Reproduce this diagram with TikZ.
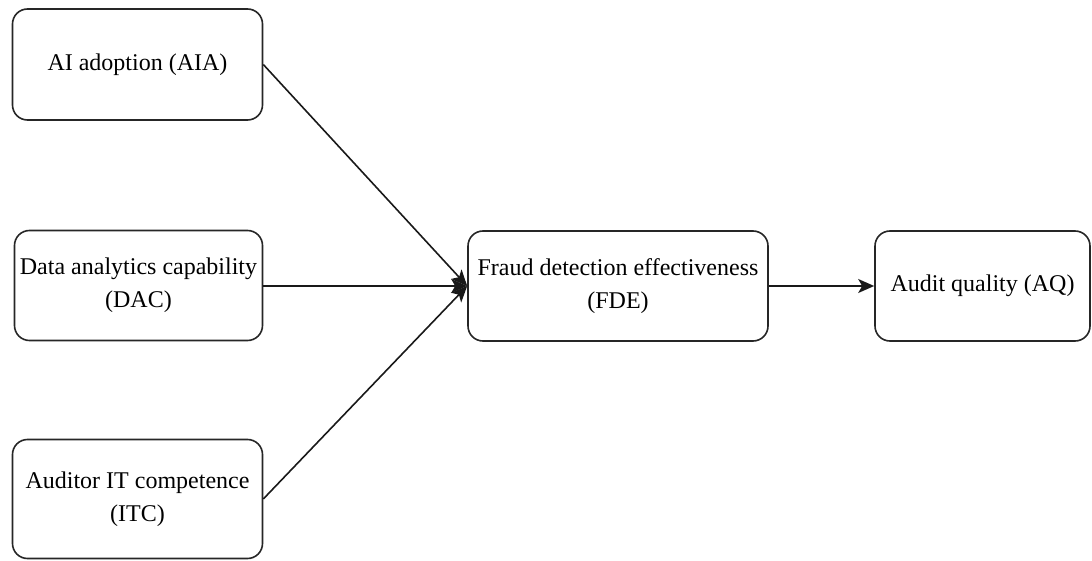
\documentclass[tikz,border=0pt]{standalone}
\usepackage{fontspec}
\setmainfont{Liberation Serif}
\usetikzlibrary{arrows.meta, positioning}
\tikzstyle{construct} = [draw=black!85, line width=1.6pt, rectangle, rounded corners=15pt, align=center, inner sep=0pt, minimum height=110pt, font=\fontsize{24}{33}\selectfont]
\tikzstyle{link} = [line width=1.6pt, draw=black!90, -{Stealth[length=16pt,width=14pt,inset=4pt]}]

\begin{document}
\begin{tikzpicture}[x=1pt, y=-1pt]
	\useasboundingbox (0,0) rectangle (1092,561);
	% predictors
	\node [construct, minimum width=250pt, minimum height=111pt] (aia) at (137.5,64.5) {AI adoption (AIA)};
	\node [construct, minimum width=248pt] (dac) at (138.5,285.5) {Data analytics capability\\(DAC)};
	\node [construct, minimum width=250pt, minimum height=119pt] (itc) at (137.5,499) {Auditor IT competence\\(ITC)};
	% mediator and outcome
	\node [construct, minimum width=300pt] (fde) at (618,286) {Fraud detection effectiveness\\(FDE)};
	\node [construct, minimum width=215pt] (aq) at (982.5,286) {Audit quality (AQ)};

	\draw [link] (aia.east) -- (fde.west);
	\draw [link] (dac.east |- fde.west) -- (fde.west);
	\draw [link] (itc.east) -- (fde.west);
	\draw [link] (fde.east) -- (aq.west);
\end{tikzpicture}
\end{document}
